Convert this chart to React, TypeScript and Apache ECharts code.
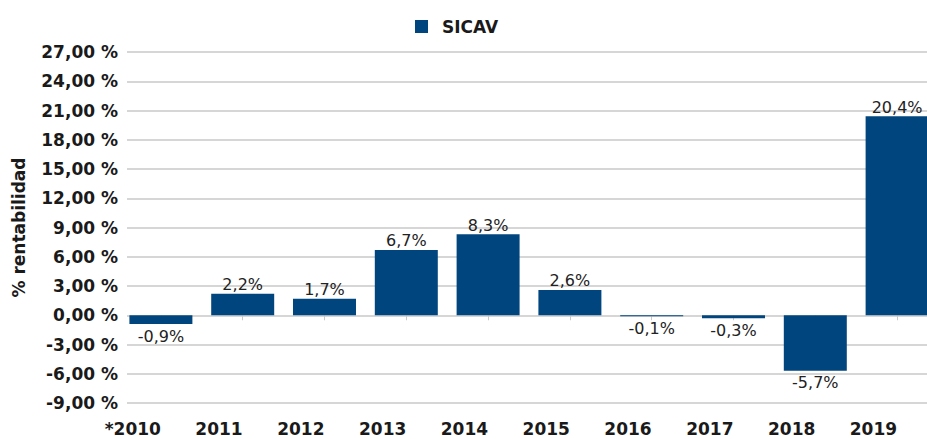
import React, { useEffect, useRef } from "react";
import * as echarts from "echarts";

const categories = ["*2010", "2011", "2012", "2013", "2014", "2015", "2016", "2017", "2018", "2019"];
const sicavValues = [-0.9, 2.2, 1.7, 6.7, 8.3, 2.6, -0.1, -0.3, -5.7, 20.4];
const yMin = -9;
const yMax = 27;
const yInterval = 3;

const FONT = "DejaVu Sans";
const BAR_COLOR = "#00457e";

export default function App() {
  const ref = useRef<HTMLDivElement>(null);
  useEffect(() => {
    if (!ref.current) return;
    const chart = echarts.init(ref.current, null, { renderer: "svg" });
    const fmtAxis = (v: number) => v.toFixed(2).replace(".", ",") + " %";
    const fmtLabel = (v: number) => v.toFixed(1).replace(".", ",") + "%";
    chart.setOption({
      animation: false,
      textStyle: { fontFamily: FONT },
      legend: {
        data: ["SICAV"],
        left: 410,
        top: 13,
        itemWidth: 13,
        itemHeight: 13,
        icon: "rect",
        textStyle: { fontFamily: FONT, fontWeight: "bold", fontSize: 17, color: "#1a1a1a", padding: [0, 0, 0, 9] },
      },
      grid: [
        { left: 127, right: 0, top: 52, bottom: 36, outerBoundsMode: "none", containLabel: false },
        { left: 120, width: 818, top: 52, bottom: 36, outerBoundsMode: "none", containLabel: false },
      ],
      xAxis: [
        { type: "category", gridIndex: 0, show: false, data: categories },
        {
          type: "category",
          gridIndex: 1,
          data: categories,
          offset: 6,
          axisLine: { show: false },
          axisTick: { show: true, alignWithLabel: true, length: 5, lineStyle: { color: "#c8c8c8" } },
          axisLabel: {
            fontFamily: FONT,
            fontWeight: "bold",
            fontSize: 17,
            color: "#1a1a1a",
            margin: 11,
            interval: 0,
            align: "right",
          },
        },
      ],
      yAxis: [
        {
          type: "value",
          gridIndex: 0,
          min: yMin,
          max: yMax,
          interval: yInterval,
          name: "% rentabilidad",
          nameLocation: "middle",
          nameRotate: 90,
          nameGap: 100,
          nameTextStyle: { fontFamily: FONT, fontWeight: "bold", fontSize: 17, color: "#1a1a1a" },
          axisLine: { show: false },
          axisTick: { show: false },
          splitLine: { show: true, lineStyle: { color: "#c8c8c8", width: 1.5 } },
          axisLabel: { fontFamily: FONT, fontWeight: "bold", fontSize: 17, color: "#1a1a1a", margin: 9, formatter: fmtAxis },
        },
        {
          type: "value",
          gridIndex: 1,
          min: yMin,
          max: yMax,
          interval: yInterval,
          show: false,
          splitLine: { show: false },
        },
      ],
      series: [
        {
          name: "SICAV",
          type: "bar",
          xAxisIndex: 1,
          yAxisIndex: 1,
          barCategoryGap: "23%",
          itemStyle: { color: BAR_COLOR },
          data: sicavValues.map((v) => ({
            value: v,
            label: { distance: v < 0 ? 4 : 1 },
          })),
          label: {
            show: true,
            position: "outside",
            fontFamily: FONT,
            fontSize: 16,
            color: "#222",
            formatter: (p: any) => fmtLabel(p.value),
          },
        },
      ],
    });
    return () => chart.dispose();
  }, []);
  return <div ref={ref} style={{ position: "absolute", left: 0, top: 0, width: 927, height: 439 }} />;
}
